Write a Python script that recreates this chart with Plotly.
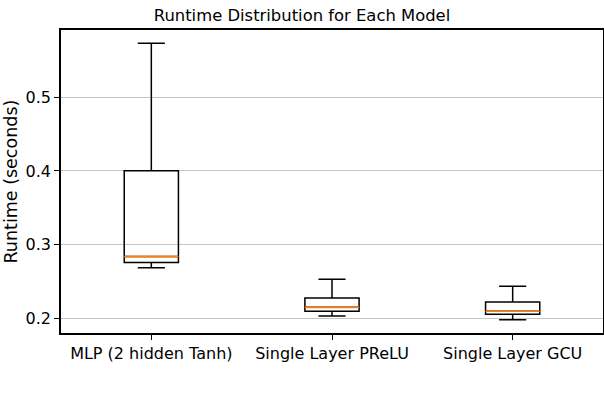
import plotly.graph_objects as go

models = ["MLP (2 hidden Tanh)", "Single Layer PReLU", "Single Layer GCU"]
positions = [1, 2, 3]
lower_whisker = [0.269, 0.2035, 0.1986]
q1_vals = [0.276, 0.2099, 0.2058]
median_vals = [0.284, 0.2153, 0.2100]
q3_vals = [0.4003, 0.228, 0.2225]
upper_whisker = [0.573, 0.2533, 0.2438]

y_ticks = [0.2, 0.3, 0.4, 0.5]
y_tick_text = ["0.2", "0.3", "0.4", "0.5"]

box_w = 0.3
font_family = "DejaVu Sans, Verdana, sans-serif"

fig = go.Figure()
fig.add_trace(go.Box(
    x=positions,
    q1=q1_vals,
    median=median_vals,
    q3=q3_vals,
    lowerfence=lower_whisker,
    upperfence=upper_whisker,
    width=box_w,
    whiskerwidth=0.5,
    fillcolor="rgba(255,255,255,0)",
    line=dict(color="black", width=1.5),
    boxpoints=False,
    hoverinfo="skip",
    showlegend=False,
))

for p, m in zip(positions, median_vals):
    fig.add_trace(go.Scatter(
        x=[p - box_w / 2, p + box_w / 2],
        y=[m, m],
        mode="lines",
        line=dict(color="#ff7f0e", width=1.7),
        showlegend=False,
        hoverinfo="skip",
    ))

fig.update_layout(
    width=604,
    height=396,
    margin=dict(l=61, r=1, t=30, b=63, autoexpand=False),
    paper_bgcolor="white",
    plot_bgcolor="white",
    font=dict(family=font_family, color="black"),
    title=dict(
        text="Runtime Distribution for Each Model",
        xref="container",
        x=0.5,
        xanchor="center",
        yref="container",
        y=1 - 15 / 396,
        yanchor="middle",
        font=dict(size=16.4, family=font_family, color="black"),
    ),
    showlegend=False,
)

fig.update_xaxes(
    range=[0.5, 3.5],
    tickmode="array",
    tickvals=positions,
    ticktext=models,
    ticks="outside",
    ticklen=5,
    tickwidth=1.2,
    tickcolor="black",
    showgrid=False,
    zeroline=False,
    showline=True,
    linecolor="black",
    linewidth=1.5,
    mirror=True,
    automargin=False,
    tickfont=dict(size=16, family=font_family, color="black"),
)

fig.update_yaxes(
    range=[0.1805, 0.591],
    tickmode="array",
    tickvals=y_ticks,
    ticktext=y_tick_text,
    ticks="outside",
    ticklen=5,
    tickwidth=1.2,
    tickcolor="black",
    showgrid=True,
    gridcolor="#c4c4c4",
    gridwidth=1.3,
    zeroline=False,
    showline=True,
    linecolor="black",
    linewidth=1.5,
    mirror=True,
    automargin=False,
    ticklabelstandoff=0,
    tickfont=dict(size=16, family=font_family, color="black"),
)

fig.add_annotation(
    text="Runtime (seconds)",
    textangle=-90,
    xref="paper",
    yref="paper",
    x=0,
    y=0.5,
    xanchor="center",
    yanchor="middle",
    xshift=-(61 - 10),
    showarrow=False,
    font=dict(size=17.5, family=font_family, color="black"),
)

fig.write_html(
    "out.html",
    config={"displayModeBar": False},
    post_script="document.body.style.margin='0';document.body.style.overflow='hidden';",
)
